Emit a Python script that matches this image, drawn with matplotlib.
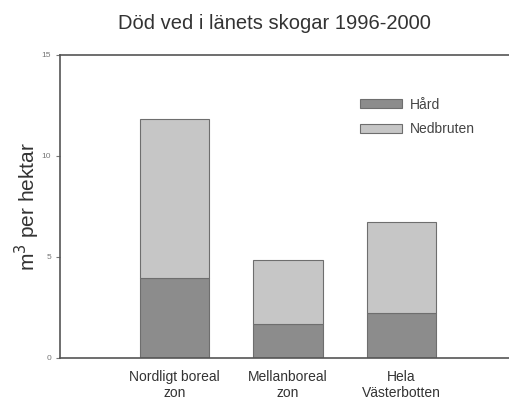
import numpy as np
import matplotlib.pyplot as plt

plt.rcParams['font.family'] = ['Liberation Sans', 'DejaVu Sans']

categories = ['Nordligt boreal\nzon', 'Mellanboreal\nzon', 'Hela\nVästerbotten']
hard = [3.96, 1.68, 2.23]
nedbruten = [7.87, 3.17, 4.5]

fig = plt.figure(figsize=(5.09, 4.03), dpi=100)
ax = fig.add_axes([0.118, 0.112, 0.882, 0.752])

x = np.arange(len(categories))
width = 0.61
ax.bar(x, hard, width, color='#8c8c8c', edgecolor='#6e6e6e', linewidth=0.8, label='Hård')
ax.bar(x, nedbruten, width, bottom=hard, color='#c6c6c6', edgecolor='#6e6e6e',
       linewidth=0.8, label='Nedbruten')

ax.set_xlim(-1.009, 2.947)
ax.set_ylim(0, 15)
ax.set_yticks([0, 5, 10, 15])
ax.set_xticks(x)
ax.set_xticklabels(categories, fontsize=10, color='#333333', linespacing=1.15)
ax.tick_params(axis='x', length=0, pad=9)
ax.tick_params(axis='y', labelsize=6, colors='#777777', length=3, width=0.8)
for s in ['left', 'top', 'bottom']:
    ax.spines[s].set_color('#555555')
    ax.spines[s].set_linewidth(1.2)
ax.spines['right'].set_visible(False)

ax.set_ylabel('m$^3$ per hektar', fontsize=15, color='#333333')
ax.yaxis.set_label_coords(-0.04, 0.5)
fig.text(0.54, 0.942, 'Död ved i länets skogar 1996-2000', ha='center', va='center',
         fontsize=14.5, color='#333333')

ax.legend(loc='upper left', bbox_to_anchor=(0.64, 0.9), frameon=False, fontsize=10,
          handlelength=3.0, handleheight=0.6, labelspacing=0.75, handletextpad=0.6,
          labelcolor='#444444')

fig.savefig('out.png', dpi=100)
